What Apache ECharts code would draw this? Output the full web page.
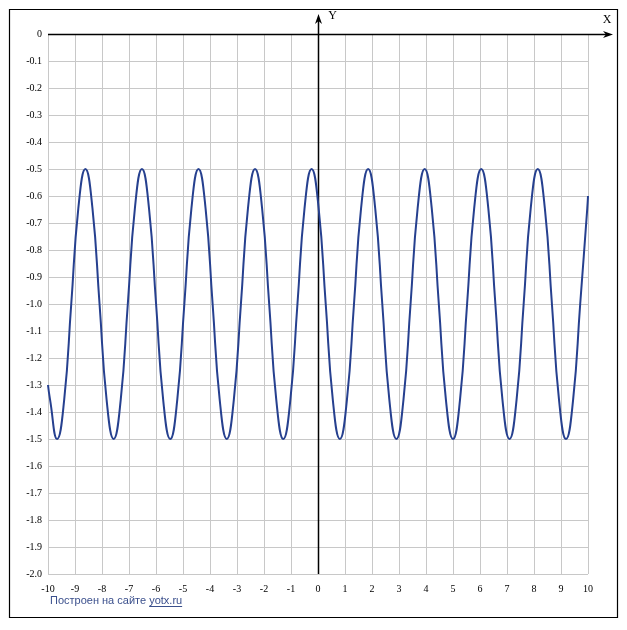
<!DOCTYPE html>
<html>
<head>
<meta charset="utf-8">
<script src="https://cdn.jsdelivr.net/npm/echarts@6/dist/echarts.min.js"></script>
<style>
html,body{margin:0;padding:0;background:#fff;}
#chart{width:627px;height:630px;}
</style>
</head>
<body>
<div id="chart"></div>
<script>
// Curve samples (x, y)
var curveX = [-10, -9.924, -9.662, -9.400, -9.139, -8.877, -8.615, -8.353, -8.091, -7.830, -7.568,
  -7.306, -7.044, -6.782, -6.521, -6.259, -5.997, -5.735, -5.473, -5.212, -4.950,
  -4.688, -4.426, -4.164, -3.903, -3.641, -3.379, -3.117, -2.855, -2.594, -2.332,
  -2.070, -1.808, -1.546, -1.285, -1.023, -0.761, -0.499, -0.237, 0.024, 0.286,
  0.548, 0.810, 1.072, 1.333, 1.595, 1.857, 2.119, 2.381, 2.642, 2.904,
  3.166, 3.428, 3.690, 3.951, 4.213, 4.475, 4.737, 4.999, 5.260, 5.522,
  5.784, 6.046, 6.308, 6.569, 6.831, 7.093, 7.355, 7.617, 7.878, 8.140,
  8.402, 8.664, 8.926, 9.187, 9.449, 9.711, 9.973, 10];
var curveY = [-1.30, -1.354, -1.5, -1.354, -1.0, -0.646, -0.5, -0.646, -1.0, -1.354, -1.5,
  -1.354, -1.0, -0.646, -0.5, -0.646, -1.0, -1.354, -1.5, -1.354, -1.0,
  -0.646, -0.5, -0.646, -1.0, -1.354, -1.5, -1.354, -1.0, -0.646, -0.5,
  -0.646, -1.0, -1.354, -1.5, -1.354, -1.0, -0.646, -0.5, -0.646, -1.0,
  -1.354, -1.5, -1.354, -1.0, -0.646, -0.5, -0.646, -1.0, -1.354, -1.5,
  -1.354, -1.0, -0.646, -0.5, -0.646, -1.0, -1.354, -1.5, -1.354, -1.0,
  -0.646, -0.5, -0.646, -1.0, -1.354, -1.5, -1.354, -1.0, -0.646, -0.5,
  -0.646, -1.0, -1.354, -1.5, -1.354, -1.0, -0.646, -0.60];
var xRange = [-10, 10];
var yRange = [-2, 0];
var xAxisName = 'X';
var yAxisName = 'Y';
var footerText = 'Построен на сайте';
var footerLink = 'yotx.ru';

var chart = echarts.init(document.getElementById('chart'), null, {renderer: 'canvas'});
var data = curveX.map(function (x, i) { return [x, curveY[i]]; });
var serif = '"Liberation Serif", "Times New Roman", serif';
var footFont = '11px "Liberation Sans", Arial, sans-serif';
chart.setOption({
  animation: false,
  backgroundColor: '#ffffff',
  grid: {left: 48, right: 39, top: 34, bottom: 56, containLabel: false},
  xAxis: {
    type: 'value', min: xRange[0], max: xRange[1], interval: 1,
    axisLine: {show: false}, axisTick: {show: false},
    axisLabel: {color: '#000', fontFamily: serif, fontSize: 10, margin: 10},
    splitLine: {show: true, lineStyle: {color: '#c8c8c8', width: 1}}
  },
  yAxis: {
    type: 'value', min: yRange[0], max: yRange[1], interval: 0.1,
    axisLine: {show: false}, axisTick: {show: false},
    axisLabel: {color: '#000', fontFamily: serif, fontSize: 10, margin: 6,
      formatter: function (v) { return Math.abs(v) < 1e-9 ? '0' : v.toFixed(1); }},
    splitLine: {show: true, lineStyle: {color: '#c8c8c8', width: 1}}
  },
  series: [{
    type: 'line', data: data, smooth: true, showSymbol: false,
    lineStyle: {color: '#26408f', width: 2}
  }]
});

var o = chart.convertToPixel({gridIndex: 0}, [0, 0]);
var l = chart.convertToPixel({gridIndex: 0}, [xRange[0], yRange[0]]);
var r = chart.convertToPixel({gridIndex: 0}, [xRange[1], yRange[1]]);
var ax = Math.round(o[0]) + 0.5, ay = Math.round(o[1]) + 0.5;
var xEnd = r[0] + 25, yTop = o[1] - 20;

var mctx = document.createElement('canvas').getContext('2d');
mctx.font = footFont;
var footX = 50;
var linkX = footX + mctx.measureText(footerText + ' ').width;
var linkW = mctx.measureText(footerLink).width;

chart.setOption({
  graphic: [
    {type: 'rect', shape: {x: 9.5, y: 9.5, width: 608, height: 608}, style: {fill: null, stroke: '#000', lineWidth: 1.2}},
    {type: 'line', shape: {x1: l[0], y1: ay, x2: xEnd - 4, y2: ay}, style: {stroke: '#000', lineWidth: 1.5}},
    {type: 'polygon', shape: {points: [[xEnd, ay], [xEnd - 10, ay - 3.5], [xEnd - 7, ay], [xEnd - 10, ay + 3.5]]}, style: {fill: '#000'}},
    {type: 'line', shape: {x1: ax, y1: l[1], x2: ax, y2: yTop + 4}, style: {stroke: '#000', lineWidth: 1.5}},
    {type: 'polygon', shape: {points: [[ax, yTop], [ax - 3.5, yTop + 10], [ax, yTop + 7], [ax + 3.5, yTop + 10]]}, style: {fill: '#000'}},
    {type: 'text', x: xEnd - 6, y: ay - 15, style: {text: xAxisName, font: '12px ' + serif, fill: '#000', textAlign: 'center', textVerticalAlign: 'middle'}},
    {type: 'text', x: ax + 14, y: yTop + 2, style: {text: yAxisName, font: '12px ' + serif, fill: '#000', textAlign: 'center', textVerticalAlign: 'middle'}},
    {type: 'text', x: footX, y: 601, style: {text: footerText, font: footFont, fill: '#3a4f8c', textAlign: 'left', textVerticalAlign: 'middle'}},
    {type: 'text', x: linkX, y: 601, style: {text: footerLink, font: footFont, fill: '#3a4f8c', textAlign: 'left', textVerticalAlign: 'middle'}},
    {type: 'line', shape: {x1: linkX, y1: 606.5, x2: linkX + linkW, y2: 606.5}, style: {stroke: '#3a4f8c', lineWidth: 1}}
  ]
});
</script>
</body>
</html>
